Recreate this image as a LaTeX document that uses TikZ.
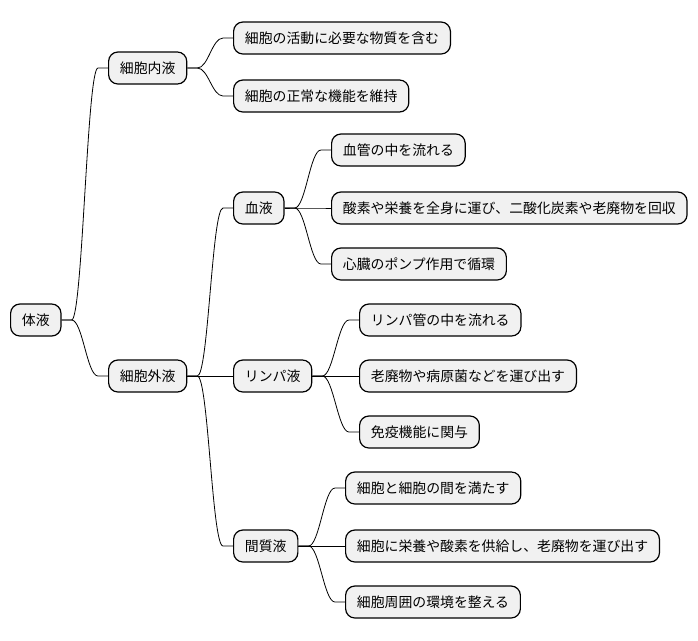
\documentclass[tikz,border=0pt]{standalone}
\usepackage{fontspec}
\setmainfont{Noto Sans CJK JP}

\tikzset{
  mmnode/.style={draw=black, line width=0.9pt, fill=gray!11, rounded corners=7pt,
    anchor=west, minimum height=24pt, inner xsep=8.5pt, inner ysep=0pt,
    font=\fontsize{10.4}{12}\selectfont},
  link/.style={draw=black, line width=0.6pt}
}
% branch from parent node to child node
\newcommand{\branch}[2]{%
  \draw[link] (#1.east) -- ++(10,0) .. controls +(11,0) and +(-11,0) .. ([xshift=-7.5pt]#2.west) -- (#2.west);}

\begin{document}
\begin{tikzpicture}[x=0.75pt, y=-0.75pt]
    \useasboundingbox (0,0) rectangle (698,640);

    % === ROOT ===
    \node[mmnode] (taieki) at (10,320) {体液};

    % === 細胞内液 ===
    \node[mmnode] (naieki) at (108,68) {細胞内液};
    \node[mmnode] (n1) at (233,38) {細胞の活動に必要な物質を含む};
    \node[mmnode] (n2) at (233,96) {細胞の正常な機能を維持};

    % === 細胞外液 ===
    \node[mmnode] (gaieki) at (108,376) {細胞外液};

    % blood
    \node[mmnode] (ketsueki) at (233,208) {血液};
    \node[mmnode] (k1) at (331,150) {血管の中を流れる};
    \node[mmnode] (k2) at (331,208) {酸素や栄養を全身に運び、二酸化炭素や老廃物を回収};
    \node[mmnode] (k3) at (331,264) {心臓のポンプ作用で循環};

    % lymph
    \node[mmnode] (lympha) at (233,376) {リンパ液};
    \node[mmnode] (l1) at (359,320) {リンパ管の中を流れる};
    \node[mmnode] (l2) at (359,376) {老廃物や病原菌などを運び出す};
    \node[mmnode] (l3) at (359,432) {免疫機能に関与};

    % interstitial fluid
    \node[mmnode] (kanshitsu) at (233,546) {間質液};
    \node[mmnode] (m1) at (345,488) {細胞と細胞の間を満たす};
    \node[mmnode] (m2) at (345,546) {細胞に栄養や酸素を供給し、老廃物を運び出す};
    \node[mmnode] (m3) at (345,602) {細胞周囲の環境を整える};

    % === Connectors ===
    \branch{taieki}{naieki}
    \branch{taieki}{gaieki}
    \branch{naieki}{n1}
    \branch{naieki}{n2}
    \branch{gaieki}{ketsueki}
    \branch{gaieki}{lympha}
    \branch{gaieki}{kanshitsu}
    \branch{ketsueki}{k1}
    \branch{ketsueki}{k2}
    \branch{ketsueki}{k3}
    \branch{lympha}{l1}
    \branch{lympha}{l2}
    \branch{lympha}{l3}
    \branch{kanshitsu}{m1}
    \branch{kanshitsu}{m2}
    \branch{kanshitsu}{m3}

\end{tikzpicture}
\end{document}
